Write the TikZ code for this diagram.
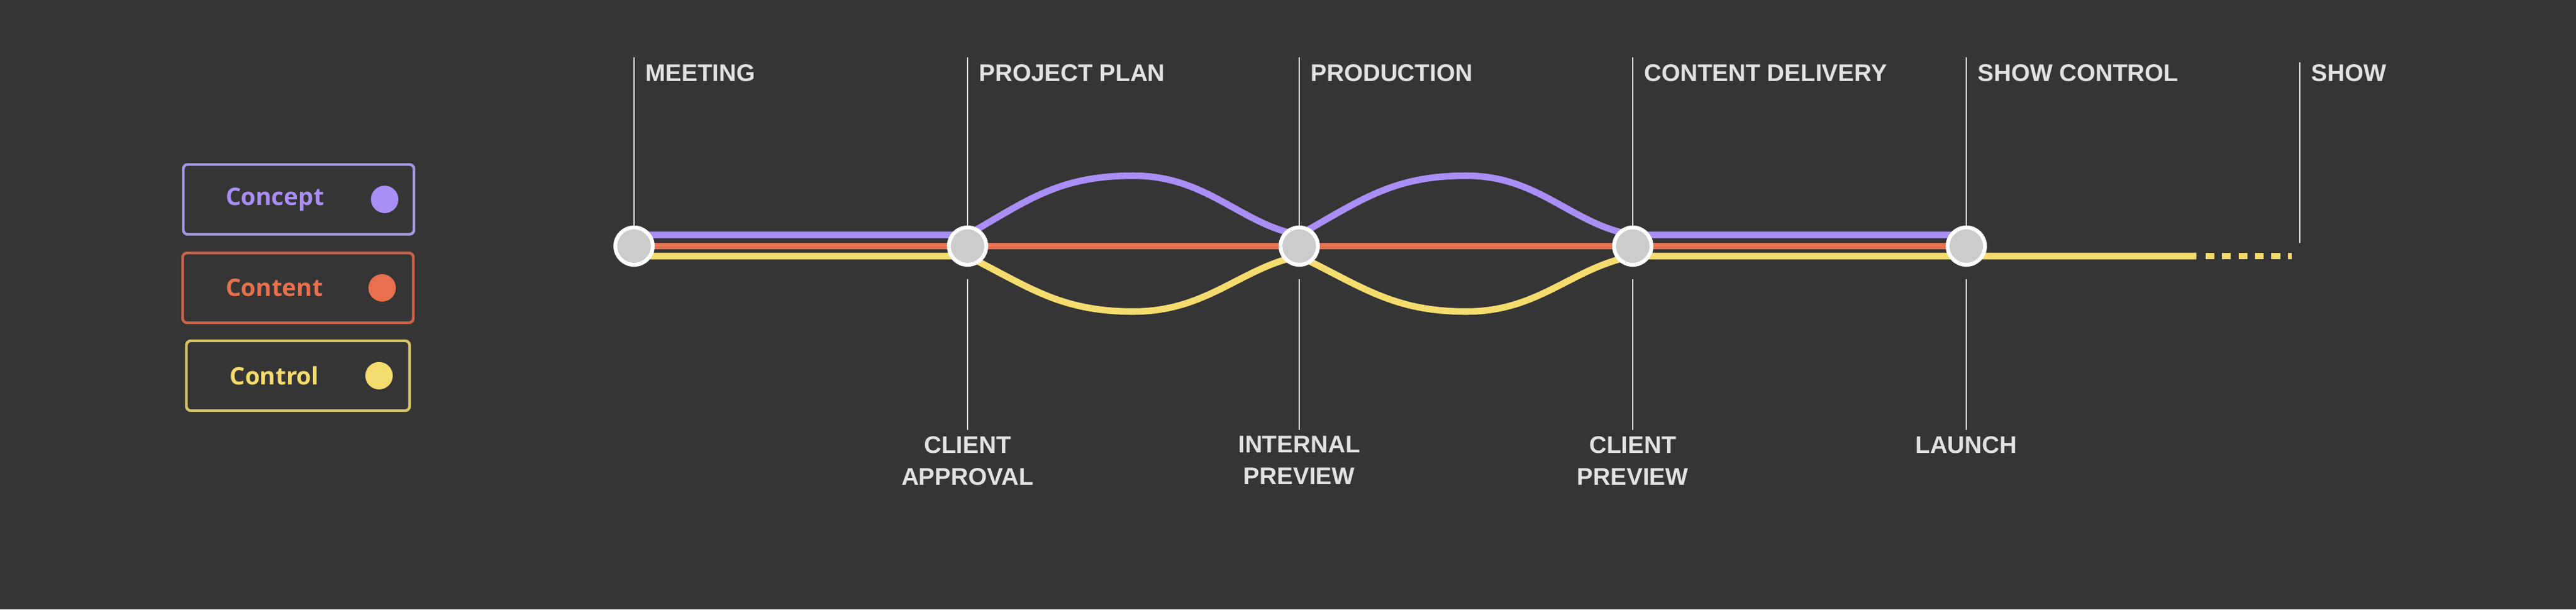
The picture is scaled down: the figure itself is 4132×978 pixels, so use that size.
\documentclass[tikz,border=0pt]{standalone}
\usepackage{fontspec}
\setmainfont{Liberation Sans}
\newfontfamily\legendfont{Open Sans}
\usetikzlibrary{calc}
\definecolor{bg}{HTML}{353535}
\definecolor{cconcept}{HTML}{A98EF5}
\definecolor{ccontent}{HTML}{E8704F}
\definecolor{ccontrol}{HTML}{F5DC6E}
\definecolor{bconcept}{HTML}{A697E0}
\definecolor{bcontent}{HTML}{C8644A}
\definecolor{bcontrol}{HTML}{D6C46A}
\definecolor{tick}{HTML}{E2E2E2}

\begin{document}
\begin{tikzpicture}[x=0.02cm,y=-0.02cm]
  \tikzset{track/.style={line width=6pt},
    ticked/.style={draw=tick, line width=1.4pt},
    stage/.style={text=tick, font=\bfseries\fontsize{22}{29}\selectfont, inner sep=0},
    stop/.style={circle, fill=black!20, draw=white, line width=3.5pt,
      minimum size=60*0.02cm, inner sep=0},
    legbox/.style={draw, rounded corners=4pt, line width=2.5pt, fill=bg,
      minimum width=370*0.02cm, minimum height=112*0.02cm},
    legdot/.style={circle, inner sep=0, minimum size=44*0.02cm},
    legtext/.style={font=\legendfont\bfseries\fontsize{22}{26}\selectfont}}
  \fill[bg] (0,0) rectangle (4132,978);
  \useasboundingbox (0,0) rectangle (4132,978);
  % milestones
  \coordinate (m1) at (1017,395);
  \coordinate (m2) at (1552,395);
  \coordinate (m3) at (2084,395);
  \coordinate (m4) at (2619,395);
  \coordinate (m5) at (3154,395);
  \coordinate (show) at (3689,100);
  \coordinate (showend) at (3689,390);
  % ticks and stage labels
  \foreach \m/\t in {m1/MEETING,m2/PROJECT PLAN,m3/PRODUCTION,
                     m4/CONTENT DELIVERY,m5/SHOW CONTROL}{
    \draw[ticked] (\m) -- ++(0,-303);
    \node[stage, anchor=north west] at ($(\m)+(18,-292)$) {\t};
  }
  \draw[ticked] (show) -- (showend);
  \node[stage, anchor=north west] at ($(show)+(18,3)$) {SHOW};
  \foreach \m/\t in {m2/{CLIENT\\APPROVAL},m3/{INTERNAL\\PREVIEW},
                     m4/{CLIENT\\PREVIEW},m5/{LAUNCH}}{
    \draw[ticked] ($(\m)+(0,53)$) -- ++(0,242);
    \node[stage, anchor=north, align=center] at ($(\m)+(0,305)$) {\t};
  }
  % tracks
  \draw[track, ccontent] (m1) -- (m4);
  \draw[track, cconcept] ($(m1)+(0,-18)$) -- ($(m2)+(0,-18)$)
    .. controls (1650,320) and (1700,282) .. (1818,282)
    .. controls (1936,282) and (1990,360) .. ($(m3)+(0,-18)$)
    .. controls (2185,320) and (2235,282) .. (2352,282)
    .. controls (2469,282) and (2520,360) .. ($(m4)+(0,-18)$)
    -- ($(m5)+(0,-18)$);
  \draw[track, ccontent] (m4) -- (m5);
  \draw[track, ccontrol] ($(m1)+(0,16)$) -- ($(m2)+(0,16)$)
    .. controls (1650,460) and (1700,500) .. (1818,500)
    .. controls (1936,500) and (1990,430) .. ($(m3)+(0,16)$)
    .. controls (2185,460) and (2235,500) .. (2352,500)
    .. controls (2469,500) and (2520,430) .. ($(m4)+(0,16)$)
    -- ($(m5)+(0,16)$) -- (3523,411);
  \draw[track, ccontrol, dash pattern=on 8pt off 7pt] (3538,411) -- (3676,411);
  \foreach \m in {m1,m2,m3,m4,m5}
    \node[stop] (s\m) at (\m) {};
  % legend
  \node[legbox, draw=bconcept] (lconcept) at (479,320) {};
  \node[legbox, draw=bcontent] (lcontent) at (478,462) {};
  \node[legbox, draw=bcontrol, minimum width=358*0.02cm] (lcontrol) at (478,603) {};
  \node[legtext, text=cconcept] at ($(lconcept)+(-38,0)$) {Concept};
  \node[legtext, text=ccontent] at ($(lcontent)+(-38,0)$) {Content};
  \node[legtext, text=ccontrol] at ($(lcontrol)+(-38,0)$) {Control};
  \node[legdot, fill=cconcept] at ($(lconcept)+(138,0)$) {};
  \node[legdot, fill=ccontent] at ($(lcontent)+(135,0)$) {};
  \node[legdot, fill=ccontrol] at ($(lcontrol)+(130,0)$) {};
\end{tikzpicture}
\end{document}
